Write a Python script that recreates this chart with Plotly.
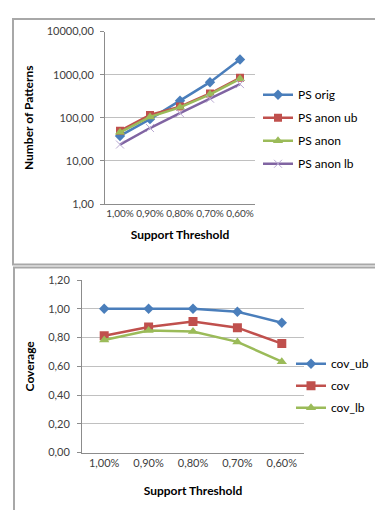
import plotly.graph_objects as go

# ---- data ----
thresholds = ["1,00%", "0,90%", "0,80%", "0,70%", "0,60%"]

ps_orig = [38, 93, 250, 670, 2250]
ps_anon_ub = [50, 116, 182, 366, 850]
ps_anon = [46, 105, 175, 350, 800]
ps_anon_lb = [24, 58, 128, 278, 605]

cov_ub = [1.00, 1.00, 1.00, 0.98, 0.903]
cov = [0.813, 0.874, 0.912, 0.869, 0.758]
cov_lb = [0.783, 0.849, 0.842, 0.770, 0.632]

top_tickvals = [1, 10, 100, 1000, 10000]
top_ticktext = ["1,00", "10,00", "100,00", "1000,00", "10000,00"]
bot_tickvals = [0, 0.2, 0.4, 0.6, 0.8, 1.0, 1.2]
bot_ticktext = ["0,00", "0,20", "0,40", "0,60", "0,80", "1,00", "1,20"]

# ---- styles ----
BLUE = "#4A7EBB"
RED = "#C0504D"
GREEN = "#9BBB59"
PURPLE = "#8064A2"
FONT = "Lato, Open Sans, sans-serif"
W, H = 383, 510

fig = go.Figure()

def add(y, name, color, symbol, size, xa, ya, legend, mline=None):
    marker = dict(symbol=symbol, size=size, color=color)
    if mline:
        marker["line"] = dict(color=mline, width=1)
    fig.add_trace(go.Scatter(
        x=thresholds, y=y, name=name, mode="lines+markers",
        line=dict(color=color, width=2.5), marker=marker,
        xaxis=xa, yaxis=ya, legend=legend, legendgroup=name,
    ))

add(ps_orig, "PS orig", BLUE, "diamond", 8, "x", "y", "legend")
add(ps_anon_ub, "PS anon ub", RED, "square", 8, "x", "y", "legend")
add(ps_anon, "PS anon", GREEN, "triangle-up", 9, "x", "y", "legend")
add(ps_anon_lb, "PS anon lb", PURPLE, "x-thin", 8, "x", "y", "legend", mline="#b9a9d2")

add(cov_ub, "cov_ub", BLUE, "diamond", 8, "x2", "y2", "legend2")
add(cov, "cov", RED, "square", 9, "x2", "y2", "legend2")
add(cov_lb, "cov_lb", GREEN, "triangle-up", 9, "x2", "y2", "legend2")

def px_x(p):
    return p / W

def px_y(p):
    return 1 - p / H

tickfont = dict(family=FONT, size=11, color="#404040")
titlefont = dict(family=FONT, size=12, color="#000000", weight="bold")
GRID = "#c0c0c0"
AXIS = "#8c8c8c"

fig.update_layout(
    width=W, height=H,
    margin=dict(l=0, r=0, t=0, b=0),
    paper_bgcolor="white", plot_bgcolor="white",
    font=dict(family=FONT),
    xaxis=dict(
        domain=[px_x(97), px_x(247)], anchor="y", type="category",
        range=[-0.5, 4.5], showgrid=False, showline=True, linecolor=AXIS,
        tickfont=dict(family=FONT, size=10, color="#404040"), ticks="",
        tickangle=0,
        title=dict(text="Support Threshold", font=titlefont, standoff=12),
    ),
    yaxis=dict(
        domain=[px_y(194), px_y(17)], anchor="x", type="log", range=[0, 4],
        tickvals=top_tickvals, ticktext=top_ticktext, tickfont=tickfont,
        showgrid=True, gridcolor=GRID, showline=True, linecolor=AXIS,
        ticks="outside", ticklen=4, tickcolor=AXIS, zeroline=False,
        ticklabelstandoff=4,
        title=dict(text="Number of Patterns", font=titlefont, standoff=10),
    ),
    xaxis2=dict(
        domain=[px_x(74), px_x(296)], anchor="y2", type="category",
        range=[-0.5, 4.5], showgrid=False, showline=True, linecolor=AXIS,
        tickfont=tickfont, ticks="", tickangle=0,
        title=dict(text="Support Threshold", font=titlefont, standoff=18),
    ),
    yaxis2=dict(
        domain=[px_y(449), px_y(272)], anchor="x2", range=[0, 1.2],
        tickvals=bot_tickvals, ticktext=bot_ticktext, tickfont=tickfont,
        showgrid=True, gridcolor=GRID, showline=True, linecolor=AXIS,
        ticks="outside", ticklen=4, tickcolor=AXIS, zeroline=False,
        ticklabelstandoff=5,
        title=dict(text="Coverage", font=titlefont, standoff=10),
    ),
    legend=dict(
        x=px_x(250), y=px_y(67), xanchor="left", yanchor="top",
        font=dict(family=FONT, size=12, color="#000"), bgcolor="rgba(0,0,0,0)",
        tracegroupgap=4,
    ),
    legend2=dict(
        x=px_x(283), y=px_y(343), xanchor="left", yanchor="top",
        font=dict(family=FONT, size=12, color="#000"), bgcolor="rgba(0,0,0,0)",
        tracegroupgap=3,
    ),
    shapes=[
        dict(type="rect", xref="paper", yref="paper",
             x0=px_x(5), x1=1.1, y0=px_y(256), y1=px_y(4),
             line=dict(color="#a8a8a8", width=2), layer="below"),
        dict(type="rect", xref="paper", yref="paper",
             x0=px_x(6), x1=1.1, y0=-0.1, y1=px_y(259),
             line=dict(color="#a8a8a8", width=2), layer="below"),
    ],
)

fig.write_html("out.html")
